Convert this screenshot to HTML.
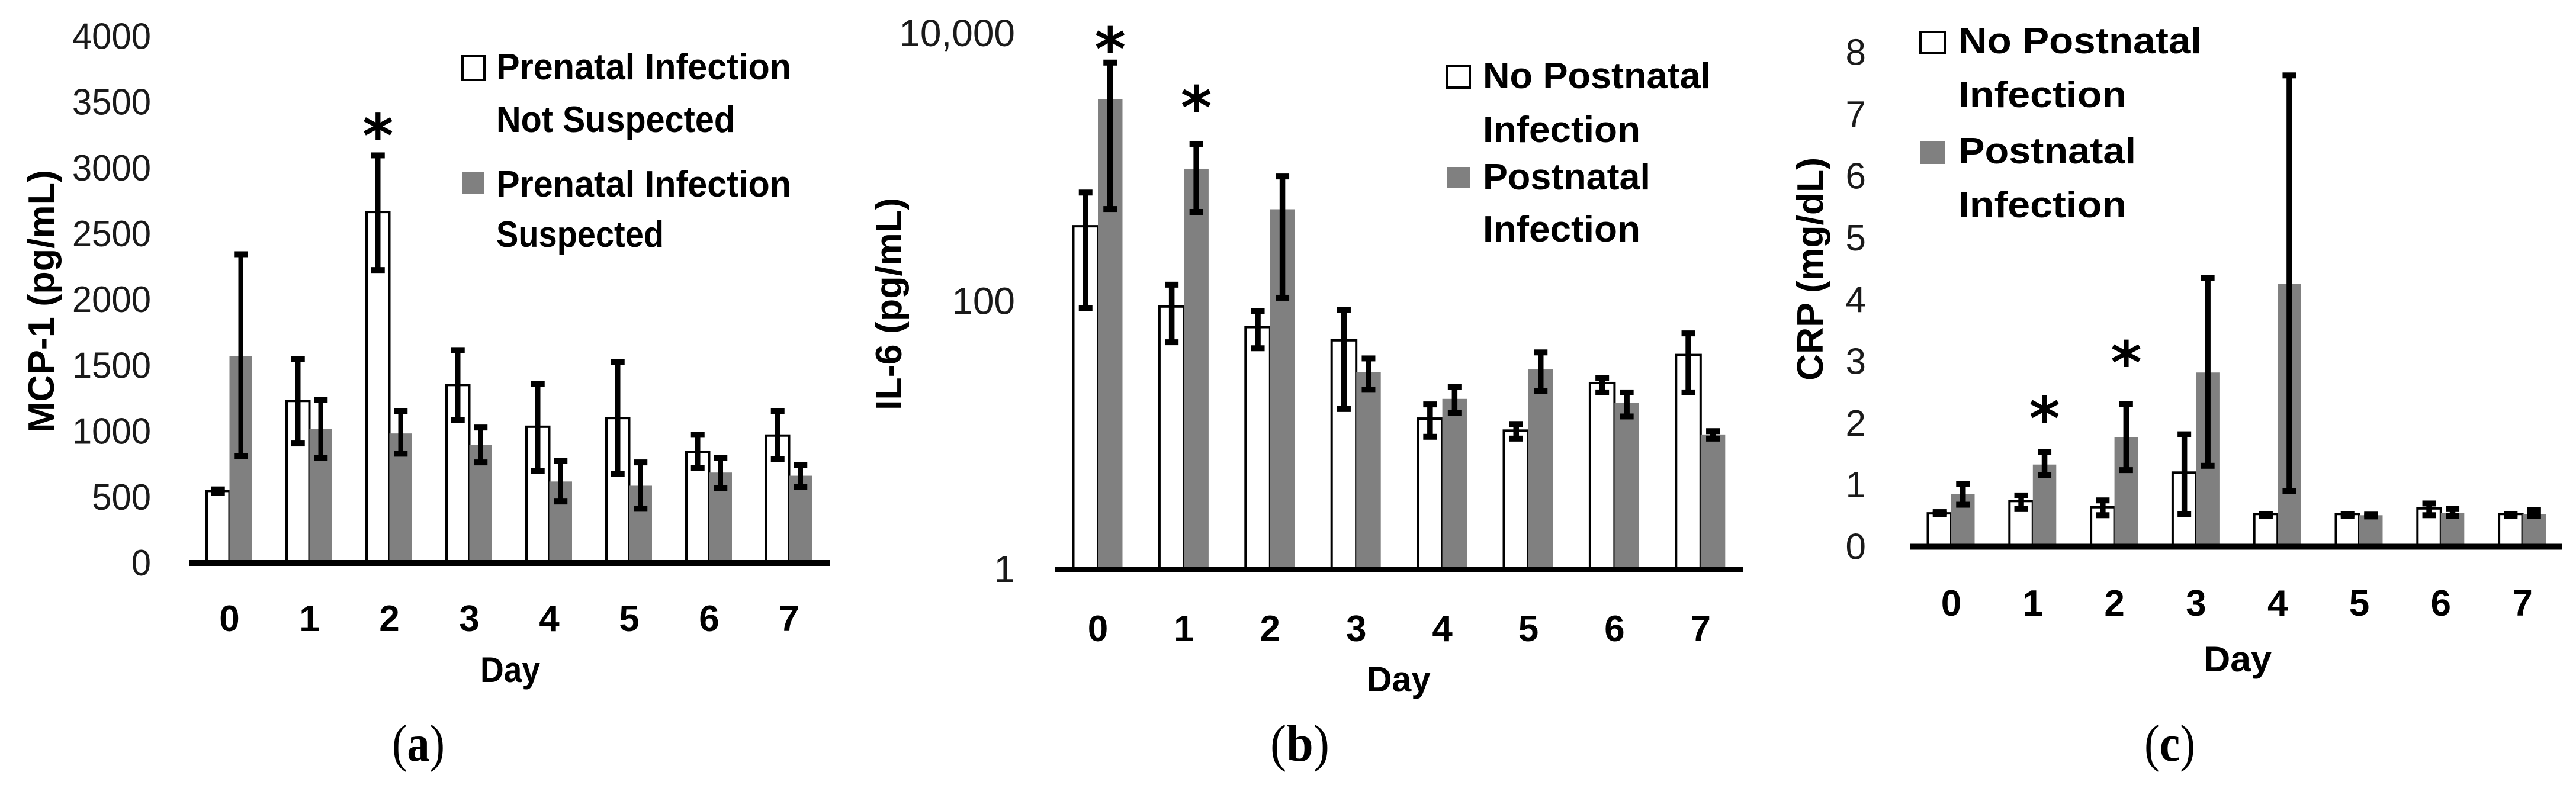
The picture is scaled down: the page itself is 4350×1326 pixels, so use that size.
<!DOCTYPE html>
<html lang="en">
<head>
<meta charset="utf-8">
<title>MCP-1, IL-6 and CRP by day</title>
<style>
html,body{margin:0;padding:0;background:#fff;}
svg{display:block;}
text{font-family:"Liberation Sans",sans-serif;fill:#000;}
.tick{fill:#1a1a1a;}
.bold{font-weight:bold;fill:#000;}
.legend{font-weight:bold;font-size:62px;}
.cap{font-family:"Liberation Serif",serif;font-size:88px;fill:#000;}
.star{font-family:"DejaVu Sans",sans-serif;font-size:100px;font-weight:bold;fill:#000;}
</style>
</head>
<body>
<svg id="figure" xmlns="http://www.w3.org/2000/svg" width="4350" height="1326" viewBox="0 0 4350 1326">
  <rect x="0" y="0" width="4350" height="1326" fill="#fff"/>

  <g id="panel-a">
    <text class="bold" font-size="62" transform="translate(91,731) rotate(-90)" textLength="444" lengthAdjust="spacingAndGlyphs">MCP-1 (pg/mL)</text>
    <text class="bold" font-size="60" x="811" y="1152" textLength="101" lengthAdjust="spacingAndGlyphs">Day</text>
    <g>
      <rect x="781" y="95" width="37" height="40" fill="#fff" stroke="#000" stroke-width="4"/>
      <text class="legend" x="838" y="134" textLength="498" lengthAdjust="spacingAndGlyphs">Prenatal Infection</text>
      <text class="legend" x="838" y="223" textLength="403" lengthAdjust="spacingAndGlyphs">Not Suspected</text>
      <rect x="781" y="290" width="37" height="38" fill="#808080"/>
      <text class="legend" x="838" y="332" textLength="498" lengthAdjust="spacingAndGlyphs">Prenatal Infection</text>
      <text class="legend" x="838" y="417" textLength="283" lengthAdjust="spacingAndGlyphs">Suspected</text>
    </g>
    <text class="cap" x="662" y="1285" textLength="89" lengthAdjust="spacingAndGlyphs">(<tspan font-weight="bold">a</tspan>)</text>
  </g>

  <g id="panel-b">
    <text class="bold" font-size="62" transform="translate(1522,693) rotate(-90)" textLength="359" lengthAdjust="spacingAndGlyphs">IL-6 (pg/mL)</text>
    <text class="bold" font-size="60" x="2308" y="1168" textLength="108" lengthAdjust="spacingAndGlyphs">Day</text>
    <g>
      <rect x="2443" y="112" width="39" height="36" fill="#fff" stroke="#000" stroke-width="4"/>
      <text class="legend" x="2504" y="149" textLength="385" lengthAdjust="spacingAndGlyphs">No Postnatal</text>
      <text class="legend" x="2504" y="240" textLength="266" lengthAdjust="spacingAndGlyphs">Infection</text>
      <rect x="2444" y="282" width="38" height="36" fill="#808080"/>
      <text class="legend" x="2504" y="320" textLength="283" lengthAdjust="spacingAndGlyphs">Postnatal</text>
      <text class="legend" x="2504" y="408" textLength="266" lengthAdjust="spacingAndGlyphs">Infection</text>
    </g>
    <text class="cap" x="2145" y="1285" textLength="100" lengthAdjust="spacingAndGlyphs">(<tspan font-weight="bold">b</tspan>)</text>
  </g>

  <g id="panel-c">
    <text class="bold" font-size="62" transform="translate(3078,643) rotate(-90)" textLength="377" lengthAdjust="spacingAndGlyphs">CRP (mg/dL)</text>
    <text class="bold" font-size="60" x="3721" y="1134" textLength="115" lengthAdjust="spacingAndGlyphs">Day</text>
    <g>
      <rect x="3243" y="54" width="41" height="36" fill="#fff" stroke="#000" stroke-width="4"/>
      <text class="legend" x="3307" y="90" textLength="411" lengthAdjust="spacingAndGlyphs">No Postnatal</text>
      <text class="legend" x="3307" y="181" textLength="284" lengthAdjust="spacingAndGlyphs">Infection</text>
      <rect x="3243" y="238" width="41" height="39" fill="#808080"/>
      <text class="legend" x="3307" y="276" textLength="300" lengthAdjust="spacingAndGlyphs">Postnatal</text>
      <text class="legend" x="3307" y="367" textLength="284" lengthAdjust="spacingAndGlyphs">Infection</text>
    </g>
    <text class="cap" x="3621" y="1285" textLength="86" lengthAdjust="spacingAndGlyphs">(<tspan font-weight="bold">c</tspan>)</text>
  </g>
</svg>

<script>
// Shared category labels
const days = ['0', '1', '2', '3', '4', '5', '6', '7'];

// Panel (a) MCP-1, pg/mL
const mcpTicks = [0, 500, 1000, 1500, 2000, 2500, 3000, 3500, 4000];
const mcpTickLabels = ['0', '500', '1000', '1500', '2000', '2500', '3000', '3500', '4000'];
const mcpNotSuspected = [547, 1231, 2666, 1352, 1035, 1101, 844, 968];
const mcpNotSuspectedHigh = [559, 1550, 3096, 1617, 1362, 1526, 974, 1153];
const mcpNotSuspectedLow = [533, 908, 2225, 1085, 699, 675, 722, 788];
const mcpSuspected = [1570, 1019, 984, 896, 619, 587, 687, 663];
const mcpSuspectedHigh = [2345, 1241, 1153, 1029, 774, 764, 798, 744];
const mcpSuspectedLow = [810, 798, 830, 764, 467, 412, 567, 579];
const mcpStarDays = [2];
const mcpStarSeries = [0];
const mcpStarValues = [3320];

// Panel (b) IL-6, pg/mL (log axis)
const il6Ticks = [1, 100, 10000];
const il6TickLabels = ['1', '100', '10,000'];
const il6NoInfection = [366, 92, 64.6, 51.5, 13.4, 10.9, 24.7, 40];
const il6NoInfectionHigh = [653, 134, 85, 87, 17.1, 12.2, 26.9, 58];
const il6NoInfectionLow = [89.5, 49.8, 44.9, 15.8, 9.8, 9.5, 21, 21];
const il6Infection = [3268, 984, 490, 29.9, 18.8, 31.2, 17.5, 10.2];
const il6InfectionHigh = [6100, 1509, 861, 37.7, 23.1, 41.8, 21, 10.8];
const il6InfectionLow = [492, 468, 107, 22, 14.7, 21.5, 13.9, 9.5];
const il6StarDays = [0, 1];
const il6StarSeries = [1, 1];
const il6StarValues = [9141, 3337];

// Panel (c) CRP, mg/dL
const crpTicks = [0, 1, 2, 3, 4, 5, 6, 7, 8];
const crpTickLabels = ['0', '1', '2', '3', '4', '5', '6', '7', '8'];
const crpNoInfection = [0.54, 0.74, 0.64, 1.2, 0.53, 0.53, 0.62, 0.53];
const crpNoInfectionHigh = [0.56, 0.83, 0.75, 1.82, 0.53, 0.53, 0.7, 0.53];
const crpNoInfectionLow = [0.53, 0.61, 0.51, 0.53, 0.5, 0.5, 0.51, 0.5];
const crpInfection = [0.85, 1.33, 1.77, 2.82, 4.25, 0.51, 0.55, 0.53];
const crpInfectionHigh = [1.02, 1.53, 2.31, 4.35, 7.63, 0.52, 0.61, 0.59];
const crpInfectionLow = [0.68, 1.16, 1.24, 1.31, 0.9, 0.49, 0.5, 0.5];
const crpStarDays = [1, 2];
const crpStarSeries = [1, 1];
const crpStarValues = [2.24, 3.14];

const SVG_NS = 'http://www.w3.org/2000/svg';

function make(parent, tag, props, content) {
  const el = document.createElementNS(SVG_NS, tag);
  Object.keys(props).forEach(function (k) { el.setAttribute(k, props[k]); });
  if (content !== undefined) el.textContent = content;
  parent.appendChild(el);
  return el;
}

function drawBar(root, p, x, value, filled) {
  const base = p.y(p.baseValue);
  const top = p.y(value);
  const el = make(root, 'rect', {
    x: x - p.barWidth / 2,
    y: top,
    width: p.barWidth,
    height: Math.max(0, base - top),
    fill: filled ? '#808080' : '#fff',
    stroke: filled ? 'none' : '#000',
    'stroke-width': filled ? 0 : 4
  });
  
  
}

function drawError(root, p, x, yHigh, yLow) {
  const g = make(root, 'g', { fill: '#000' });
  
  
  make(g, 'rect', { x: x - p.errWidth / 2, y: yHigh, width: p.errWidth, height: yLow - yHigh });
  make(g, 'rect', { x: x - 11.5, y: yHigh - 5, width: 23, height: 10 });
  make(g, 'rect', { x: x - 11.5, y: yLow - 5, width: 23, height: 10 });
}

function drawPanel(p) {
  const root = document.getElementById(p.id);

  p.ticks.forEach(function (t, i) {
    const lab = make(root, 'text', {
      class: 'tick',
      x: p.tickRight,
      y: p.y(t) + p.tickShift,
      'font-size': p.tickSize,
      'text-anchor': 'end'
    }, p.tickLabels[i]);
    
    
    if (p.tickSqueeze !== 1) {
      lab.setAttribute('textLength', lab.getComputedTextLength() * p.tickSqueeze);
      lab.setAttribute('lengthAdjust', 'spacingAndGlyphs');
    }
  });

  const half = p.barWidth / 2;
  days.forEach(function (d, i) {
    const c = p.x(i);
    drawBar(root, p, c - half, p.white[i], false);
    drawBar(root, p, c + half, p.gray[i], true);
  });
  days.forEach(function (d, i) {
    const c = p.x(i);
    drawError(root, p, c - half, p.y(p.whiteHigh[i]), p.y(p.whiteLow[i]));
    drawError(root, p, c + half, p.y(p.grayHigh[i]), p.y(p.grayLow[i]));
    const lab = make(root, 'text', {
      class: 'bold tick',
      x: c,
      y: p.labelY,
      'font-size': 62,
      'text-anchor': 'middle'
    }, d);
    
    
  });

  const axis = make(root, 'rect', {
    x: p.axisLeft,
    y: p.y(p.baseValue) - 5,
    width: p.axisRight - p.axisLeft,
    height: 10,
    fill: '#000'
  });
  
  

  p.starDays.forEach(function (d, i) {
    const sx = p.x(d) + (p.starSeries[i] ? half : -half);
    const star = make(root, 'text', {
      class: 'star',
      x: sx,
      y: p.y(p.starValues[i]) + 52,
      'text-anchor': 'middle'
    }, '*');
    
    
  });
}

drawPanel({
  id: 'panel-a',
  x: function (i) { return 387.5 + i * 135; },
  y: function (v) { return 951 - v * 0.2224; },
  baseValue: 0,
  barWidth: 38.5,
  errWidth: 8.5,
  axisLeft: 319, axisRight: 1401,
  labelY: 1066,
  tickRight: 255, tickShift: 21, tickSize: 62, tickSqueeze: 0.965,
  ticks: mcpTicks, tickLabels: mcpTickLabels,
  white: mcpNotSuspected, whiteHigh: mcpNotSuspectedHigh, whiteLow: mcpNotSuspectedLow,
  gray: mcpSuspected, grayHigh: mcpSuspectedHigh, grayLow: mcpSuspectedLow,
  starDays: mcpStarDays, starSeries: mcpStarSeries, starValues: mcpStarValues
});

drawPanel({
  id: 'panel-b',
  x: function (i) { return 1854 + i * 145.4; },
  y: function (v) { return 962 - Math.log10(v) * 226.2; },
  baseValue: 1,
  barWidth: 41.5,
  errWidth: 9.5,
  axisLeft: 1781, axisRight: 2943,
  labelY: 1083,
  tickRight: 1714, tickShift: 21, tickSize: 64, tickSqueeze: 1,
  ticks: il6Ticks, tickLabels: il6TickLabels,
  white: il6NoInfection, whiteHigh: il6NoInfectionHigh, whiteLow: il6NoInfectionLow,
  gray: il6Infection, grayHigh: il6InfectionHigh, grayLow: il6InfectionLow,
  starDays: il6StarDays, starSeries: il6StarSeries, starValues: il6StarValues
});

drawPanel({
  id: 'panel-c',
  x: function (i) { return 3295 + i * 137.8; },
  y: function (v) { return 923.5 - v * 104.35; },
  baseValue: 0,
  barWidth: 39.5,
  errWidth: 9.5,
  axisLeft: 3226, axisRight: 4327,
  labelY: 1040,
  tickRight: 3151, tickShift: 21, tickSize: 62, tickSqueeze: 1,
  ticks: crpTicks, tickLabels: crpTickLabels,
  white: crpNoInfection, whiteHigh: crpNoInfectionHigh, whiteLow: crpNoInfectionLow,
  gray: crpInfection, grayHigh: crpInfectionHigh, grayLow: crpInfectionLow,
  starDays: crpStarDays, starSeries: crpStarSeries, starValues: crpStarValues
});
</script>
</body>
</html>
